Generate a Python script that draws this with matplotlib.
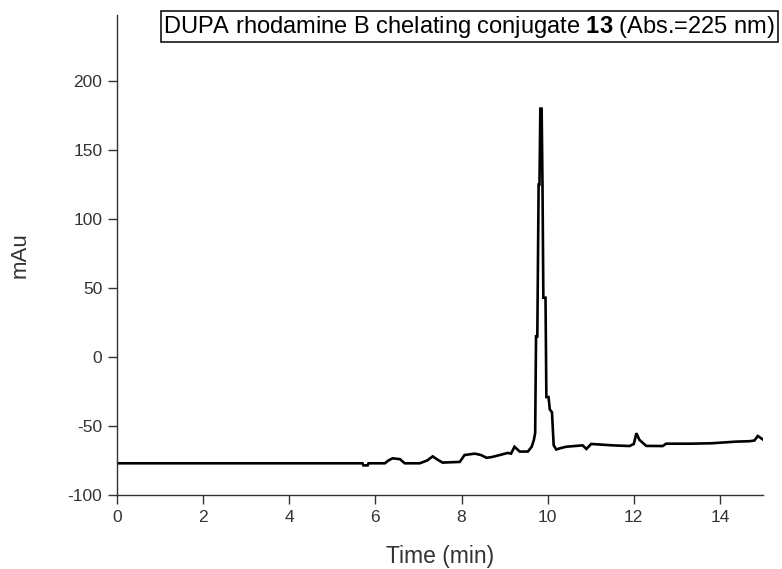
import matplotlib
matplotlib.use("Agg")
import matplotlib.pyplot as plt

# chromatogram trace (time in min, signal in mAu)
time_min = [0.0, 5.70, 5.72, 5.82, 5.84, 6.22, 6.30, 6.40, 6.57, 6.68, 7.03,
            7.20, 7.33, 7.45, 7.56, 7.96, 8.07, 8.31, 8.45, 8.58, 8.70, 8.89,
            9.07, 9.15, 9.23, 9.35, 9.54, 9.63, 9.68, 9.71, 9.73, 9.76, 9.79,
            9.81, 9.83, 9.86, 9.88, 9.90, 9.95, 9.97, 10.02, 10.05, 10.10,
            10.14, 10.20, 10.30, 10.43, 10.81, 10.90, 11.01, 11.51, 11.90,
            12.00, 12.06, 12.13, 12.29, 12.67, 12.75, 13.30, 13.80, 14.38,
            14.69, 14.80, 14.88, 14.99]
signal = [-77, -77, -78.5, -78.5, -77, -77, -75, -73.4, -74, -77, -77,
          -75, -72, -74.5, -76.5, -76, -71, -70, -71, -73, -72.5, -71,
          -69.5, -70, -65, -68.5, -68.5, -65, -60, -55, 15, 15, 125,
          125, 180, 180, 125, 43, 43, -29, -29, -38, -40,
          -64, -67, -66, -65, -64, -66.6, -63, -64, -64.5,
          -63, -55.2, -60, -64.4, -64.5, -62.8, -62.8, -62.5, -61.3,
          -61, -60.5, -57.2, -59.6]

x_ticks = [0, 2, 4, 6, 8, 10, 12, 14]
y_ticks = [-100, -50, 0, 50, 100, 150, 200]

title_text = r'DUPA rhodamine B chelating conjugate $\mathbf{13}$ (Abs.=225 nm)'

plt.rcParams['font.family'] = ['Liberation Sans', 'DejaVu Sans']
plt.rcParams['mathtext.fontset'] = 'custom'
plt.rcParams['mathtext.rm'] = 'Liberation Sans'
plt.rcParams['mathtext.bf'] = 'Liberation Sans:bold'
plt.rcParams['axes.unicode_minus'] = False

fig = plt.figure(figsize=(7.82, 5.69), dpi=100)
ax = fig.add_axes([0.1496, 0.130, 0.8261, 0.8440])

ax.plot(time_min, signal, color='black', linewidth=1.9, solid_joinstyle='miter')

ax.set_xlim(0, 15)
ax.set_ylim(-100, 248)
ax.set_xticks(x_ticks)
ax.set_yticks(y_ticks)

for s in ['top', 'right']:
    ax.spines[s].set_visible(False)
for s in ['left', 'bottom']:
    ax.spines[s].set_color('#333333')
    ax.spines[s].set_linewidth(1.0)

ax.tick_params(direction='out', length=6.5, width=1, color='#333333',
               labelsize=12.5, labelcolor='#333333', pad=4)

ax.set_xlabel('Time (min)', fontsize=16.5, color='#333333', labelpad=15)
ax.set_ylabel('mAu', fontsize=16, color='#333333', labelpad=27)

ax.text(1.019, 1.002, title_text,
        transform=ax.transAxes, ha='right', va='top', fontsize=17,
        color='black',
        bbox=dict(boxstyle='square,pad=0.1', facecolor='white',
                  edgecolor='black', linewidth=1.1))

plt.savefig('out.png', dpi=100)
